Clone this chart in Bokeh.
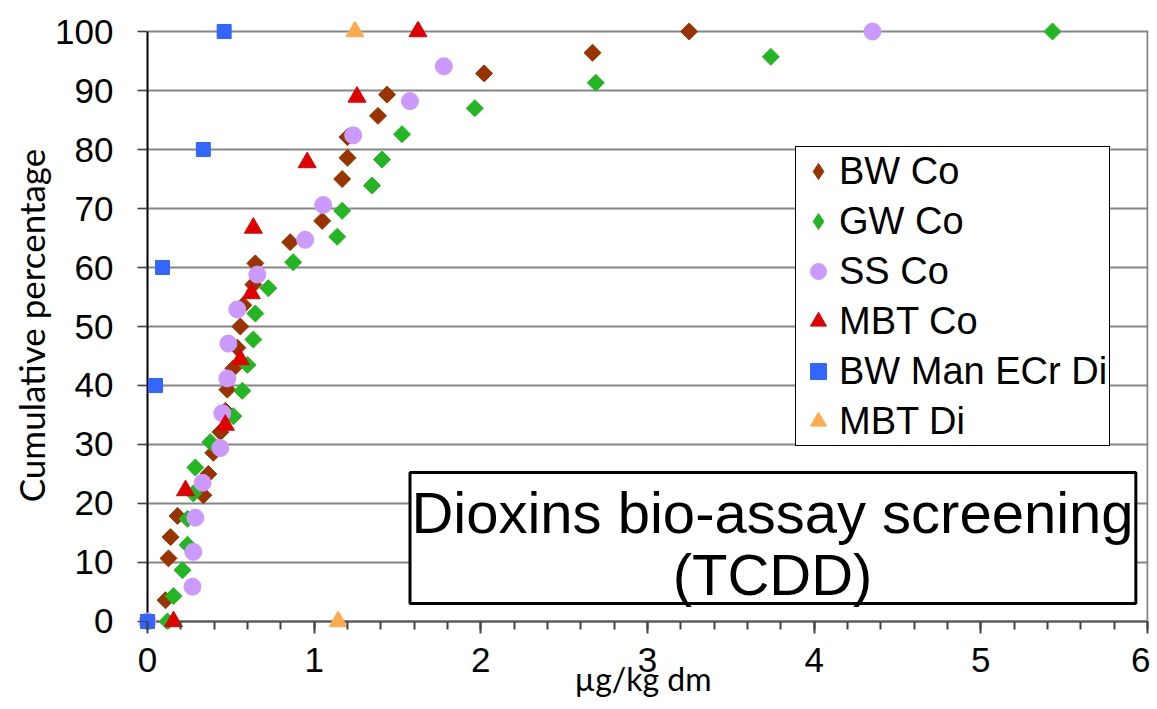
import math
from bokeh.plotting import figure
from bokeh.models import Range1d, FixedTicker, Legend, LegendItem, BoxAnnotation, Label
from bokeh.embed import file_html
from bokeh.resources import INLINE

# ---- data ----
bw_co_x = [0.108, 0.126, 0.138, 0.18, 0.335, 0.365, 0.395, 0.437, 0.467, 0.479, 0.515, 0.539, 0.557,
           0.575, 0.635, 0.647, 0.856, 1.048, 1.168, 1.20, 1.20, 1.383, 1.437, 2.02, 2.67, 3.25]
bw_co_y = [3.6, 10.7, 14.3, 17.9, 21.4, 25.0, 28.6, 32.1, 35.7, 39.3, 42.9, 46.4, 50.0,
           53.6, 57.1, 60.7, 64.3, 67.9, 75.0, 78.6, 82.1, 85.7, 89.3, 92.9, 96.4, 100.0]

gw_co_x = [0.12, 0.156, 0.21, 0.24, 0.24, 0.275, 0.287, 0.377, 0.515, 0.569, 0.60, 0.635, 0.647,
           0.725, 0.874, 1.138, 1.168, 1.347, 1.407, 1.527, 1.964, 2.69, 3.74, 5.43]
gw_co_y = [0.0, 4.3, 8.7, 13.0, 17.4, 21.7, 26.1, 30.4, 34.8, 39.1, 43.5, 47.8, 52.2,
           56.5, 60.9, 65.2, 69.6, 73.9, 78.3, 82.6, 87.0, 91.3, 95.7, 100.0]

ss_co_x = [0.0, 0.27, 0.275, 0.287, 0.33, 0.437, 0.449, 0.479, 0.485, 0.539, 0.659, 0.946, 1.054,
           1.234, 1.575, 1.778, 4.35]
ss_co_y = [0.0, 5.9, 11.8, 17.6, 23.5, 29.4, 35.3, 41.2, 47.1, 52.9, 58.8, 64.7, 70.6,
           82.4, 88.2, 94.1, 100.0]

mbt_co_x = [0.156, 0.228, 0.467, 0.557, 0.623, 0.635, 0.958, 1.257, 1.623]
mbt_co_y = [0.0, 22.2, 33.3, 44.4, 55.6, 66.7, 77.8, 88.9, 100.0]

bw_man_di_x = [0.0, 0.048, 0.09, 0.335, 0.46]
bw_man_di_y = [0.0, 40.0, 60.0, 80.0, 100.0]

mbt_di_x = [1.144, 1.245]
mbt_di_y = [0.0, 100.0]

series_names = ["BW Co", "GW Co", "SS Co", "MBT Co", "BW Man ECr Di", "MBT Di"]

x_ticks = [0, 1, 2, 3, 4, 5, 6]
x_minor_ticks = [i * 0.2 for i in range(31)]
y_ticks = [0, 10, 20, 30, 40, 50, 60, 70, 80, 90, 100]
x_title = "µg/kg dm"
y_title = "Cumulative percentage"
box_lines = ["Dioxins bio-assay screening", "(TCDD)"]

X_MIN, X_MAX = 0, 6
Y_MIN, Y_MAX = 0, 100

C_BW, C_GW, C_SS, C_MBT, C_MAN, C_MDI = "#993300", "#22B722", "#CC99FF", "#E00000", "#3366FF", "#FFAA4D"

# ---- figure ----
p = figure(width=1150, height=709, output_backend="svg", toolbar_location=None,
           x_range=Range1d(-0.06, 6.006), y_range=Range1d(-1.356, 101.695),
           min_border_left=137, min_border_right=2, min_border_top=21, min_border_bottom=80)
p.outline_line_color = None
p.background_fill_color = "white"
p.border_fill_color = "white"

p.xgrid.visible = False
p.ygrid.ticker = FixedTicker(ticks=y_ticks)
p.ygrid.grid_line_color = "#868686"
p.ygrid.grid_line_width = 2

TICK_FONT = "Liberation Sans"
TITLE_FONT = "Lato"

xa = p.xaxis[0]
xa.ticker = FixedTicker(ticks=x_ticks, minor_ticks=x_minor_ticks)
xa.axis_line_color = None
xa.major_tick_line_color = "#444444"
xa.major_tick_line_width = 2
xa.major_tick_in = 8
xa.major_tick_out = 4
xa.minor_tick_line_color = "#444444"
xa.minor_tick_line_width = 2
xa.minor_tick_in = 8
xa.minor_tick_out = 0
xa.major_label_text_font = TICK_FONT
xa.major_label_text_font_size = "35px"
xa.major_label_text_color = "black"
xa.major_label_standoff = 14
xa.axis_label = x_title
xa.axis_label_text_font = TITLE_FONT
xa.axis_label_text_font_size = "32px"
xa.axis_label_text_font_style = "normal"
xa.axis_label_text_color = "black"
xa.axis_label_standoff = -16

ya = p.yaxis[0]
ya.ticker = FixedTicker(ticks=y_ticks)
ya.axis_line_color = None
ya.major_tick_line_color = "#444444"
ya.major_tick_line_width = 1
ya.major_tick_in = 10
ya.major_tick_out = 0
ya.minor_tick_line_color = None
ya.major_label_text_font = TICK_FONT
ya.major_label_text_font_size = "35px"
ya.major_label_text_color = "black"
ya.major_label_standoff = 24
ya.axis_label = y_title
ya.axis_label_text_font = TITLE_FONT
ya.axis_label_text_font_size = "35px"
ya.axis_label_text_font_style = "normal"
ya.axis_label_text_color = "black"
ya.axis_label_standoff = 0

# axis lines / right border
p.segment(x0=[X_MIN], y0=[Y_MIN], x1=[X_MAX], y1=[Y_MIN], line_color="#555555", line_width=2)
p.segment(x0=[X_MAX], y0=[Y_MIN], x1=[X_MAX], y1=[Y_MAX], line_color="#868686", line_width=2)
p.segment(x0=[X_MIN], y0=[Y_MIN - 2], x1=[X_MIN], y1=[Y_MAX], line_color="black", line_width=2)

# ---- series ----
r_bw = p.scatter(bw_co_x, bw_co_y, marker="square", angle=math.pi / 4, size=12,
                 fill_color=C_BW, line_color=C_BW)
r_gw = p.scatter(gw_co_x, gw_co_y, marker="square", angle=math.pi / 4, size=12,
                 fill_color=C_GW, line_color=C_GW)
r_ss = p.scatter(ss_co_x, ss_co_y, marker="circle", size=17,
                 fill_color=C_SS, line_color=C_SS)
r_mbt = p.scatter(mbt_co_x, mbt_co_y, marker="triangle", size=18,
                  fill_color=C_MBT, line_color=C_MBT)
r_man = p.scatter(bw_man_di_x, bw_man_di_y, marker="square", size=14,
                  fill_color=C_MAN, line_color=C_MAN)
r_mdi = p.scatter(mbt_di_x, mbt_di_y, marker="triangle", size=18,
                  fill_color=C_MDI, line_color=C_MDI)

# legend swatches for the diamond series (legend glyphs ignore the rotation angle);
# a single non-drawable point so nothing appears in the plot area
NO_POINT = [float("nan")]
leg_bw = p.scatter(x=NO_POINT, y=NO_POINT, marker="diamond", fill_color=C_BW, line_color=C_BW)
leg_gw = p.scatter(x=NO_POINT, y=NO_POINT, marker="diamond", fill_color=C_GW, line_color=C_GW)

legend_renderers = [leg_bw, leg_gw, r_ss, r_mbt, r_man, r_mdi]

legend = Legend(items=[LegendItem(label=n, renderers=[r]) for n, r in zip(series_names, legend_renderers)],
                location=(658, 183),
                label_text_font=TICK_FONT, label_text_font_size="38px", label_text_color="black",
                glyph_width=40, glyph_height=44, label_height=44,
                spacing=6, padding=2, margin=0, label_standoff=1,
                border_line_color="black", border_line_width=1, border_line_alpha=1,
                background_fill_color="white", background_fill_alpha=1)
p.add_layout(legend)

# ---- annotation box ----
box = BoxAnnotation(left=1.575, right=5.93, bottom=3.05, top=25.25,
                    fill_color="white", fill_alpha=1, line_color="black", line_alpha=1, line_width=3)
p.add_layout(box)
p.add_layout(Label(x=3.75, y=18.5, text=box_lines[0], text_align="center", text_baseline="middle",
                   text_font=TICK_FONT, text_font_size="58px", text_color="black"))
p.add_layout(Label(x=3.75, y=8.0, text=box_lines[1], text_align="center", text_baseline="middle",
                   text_font=TICK_FONT, text_font_size="58px", text_color="black"))

open("out.html", "w").write(file_html(p, INLINE))
